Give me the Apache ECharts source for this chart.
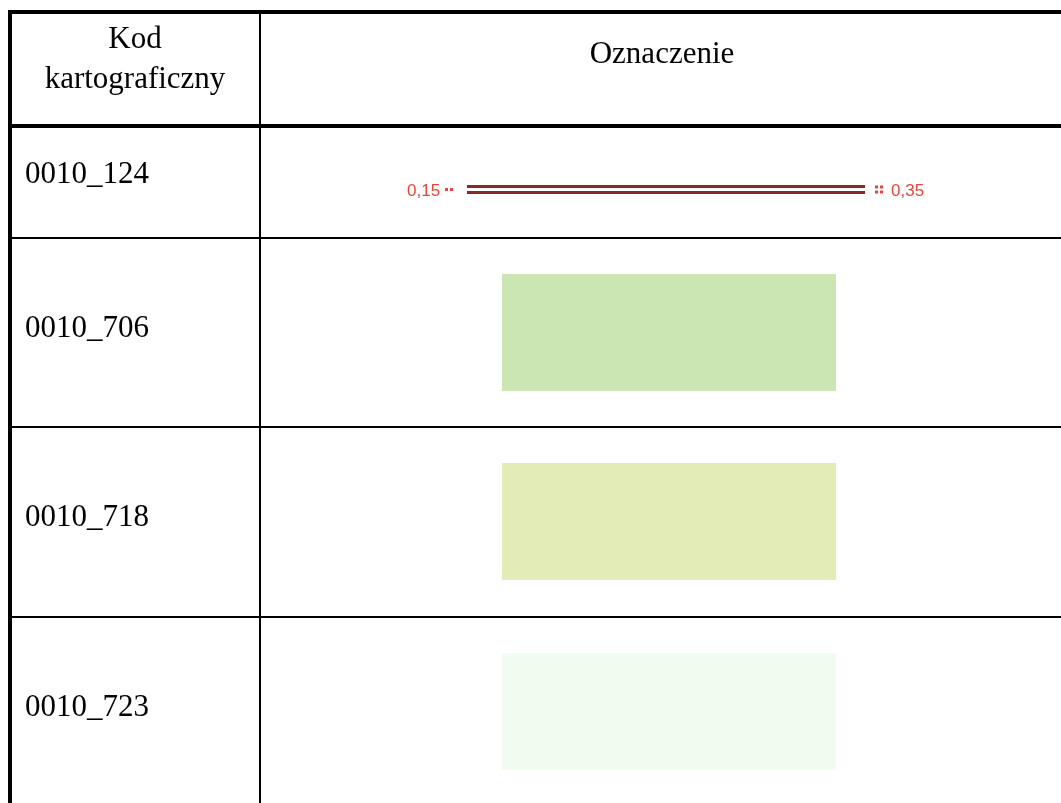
<!DOCTYPE html>
<html>
<head>
<meta charset="utf-8">
<script src="https://cdn.jsdelivr.net/npm/echarts@6/dist/echarts.min.js"></script>
<style>
  html, body { margin: 0; padding: 0; background: #fff; }
  #chart { width: 1061px; height: 803px; }
</style>
</head>
<body>
<div id="chart"></div>
<script>
// table content
const headerLabels = ['Kod\nkartograficzny', 'Oznaczenie']
const codes = ['0010_124', '0010_706', '0010_718', '0010_723']
const symbolTypes = ['line', 'fill', 'fill', 'fill']
const fillColors = ['', '#cbe5b3', '#e3ebb7', '#f1fcf0']
const lineWidthLabels = ['0,15', '0,35']

// layout (pixel space of the hidden axes)
const colEdges = [10, 260, 1075]
const rowEdges = [12, 126, 238, 427, 617, 815]
const serif = '"Liberation Serif", "DejaVu Serif", serif'
const sans = '"Liberation Sans", Arial, sans-serif'
const red = '#e8453c'
const darkRed = '#842a2a'

const chart = echarts.init(document.getElementById('chart'))

function text(x, y, str, size, family, color, align) {
  return {
    type: 'text',
    style: {
      x, y, text: str, fill: color, font: size + 'px ' + family,
      align: align || 'left', verticalAlign: 'middle', lineHeight: 40
    }
  }
}

function line(p1, p2, width, color) {
  return {
    type: 'line',
    shape: { x1: p1[0], y1: p1[1], x2: p2[0], y2: p2[1] },
    style: { stroke: color || '#000', lineWidth: width }
  }
}

function dots(api, x, y, cols, rows) {
  const out = []
  for (let c = 0; c < cols; c++) {
    for (let r = 0; r < rows; r++) {
      const p = api.coord([x + c * 5, y + r * 5])
      out.push({ type: 'rect', shape: { x: p[0], y: p[1], width: 3, height: 3 }, style: { fill: red } })
    }
  }
  return out
}

function renderRow(params, api) {
  const row = api.value(0)
  const top = rowEdges[row]
  const bottom = rowEdges[row + 1]
  const mid = (top + bottom) / 2
  const c = (x, y) => api.coord([x, y])
  const children = []

  // borders
  const topWidth = row <= 1 ? 4 : 2
  children.push(line(c(colEdges[0] - 2, top), c(colEdges[2], top), topWidth))
  children.push(line(c(colEdges[0], top), c(colEdges[0], bottom), 4))
  children.push(line(c(colEdges[1], top), c(colEdges[1], bottom), 2))

  if (row === 0) {
    const p1 = c((colEdges[0] + colEdges[1]) / 2, 60)
    children.push(text(p1[0], p1[1], headerLabels[0], 31, serif, '#000', 'center'))
    const p2 = c(662, 55)
    children.push(text(p2[0], p2[1], headerLabels[1], 31, serif, '#000', 'center'))
    return { type: 'group', children }
  }

  const i = row - 1
  const pc = c(25, Math.min(mid, 712) - (row === 1 ? 7 : 4))
  children.push(text(pc[0], pc[1], codes[i], 31, serif, '#000'))

  if (symbolTypes[i] === 'line') {
    const y = 189.5
    const l1 = c(407, y + 2)
    children.push(text(l1[0], l1[1], lineWidthLabels[0], 17, sans, red))
    children.push(...dots(api, 445, y - 1.5, 2, 1))
    children.push(line(c(467, y - 3), c(865, y - 3), 3, darkRed))
    children.push(line(c(467, y + 3), c(865, y + 3), 3, darkRed))
    children.push(...dots(api, 875, y - 4, 2, 2))
    const l2 = c(891, y + 2)
    children.push(text(l2[0], l2[1], lineWidthLabels[1], 17, sans, red))
  } else {
    const a = c(502, top + 36)
    const b = c(836, top + 153)
    children.push({
      type: 'rect',
      shape: { x: a[0], y: a[1], width: b[0] - a[0], height: b[1] - a[1] },
      style: { fill: fillColors[i] }
    })
  }
  return { type: 'group', children }
}

chart.setOption({
  animation: false,
  grid: { left: 0, right: 0, top: 0, bottom: 0 },
  xAxis: { type: 'value', min: 0, max: 1061, show: false },
  yAxis: { type: 'value', min: 0, max: 803, inverse: true, show: false },
  series: [{
    type: 'custom',
    coordinateSystem: 'cartesian2d',
    clip: false,
    data: [0, 1, 2, 3, 4].map(r => [r]),
    renderItem: renderRow
  }]
})
</script>
</body>
</html>
